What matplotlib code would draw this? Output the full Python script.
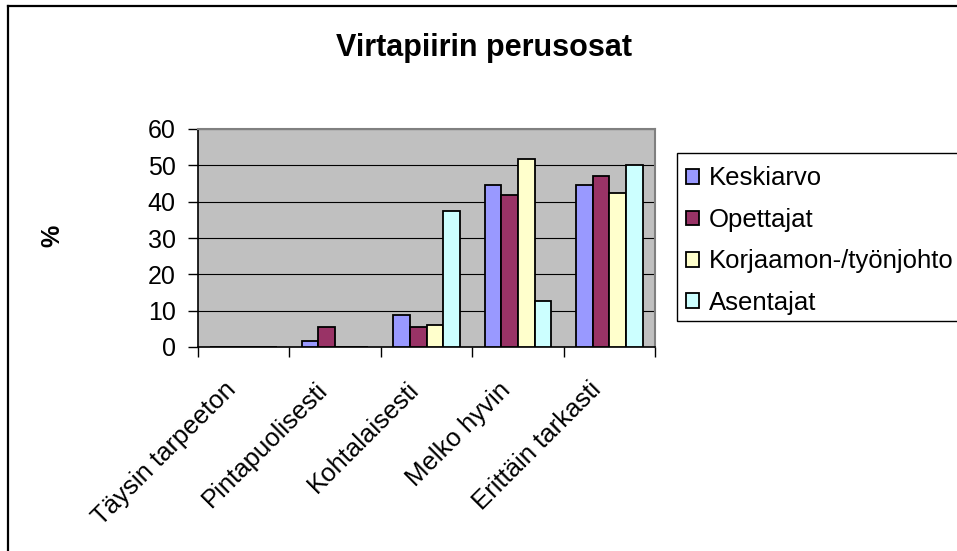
import matplotlib
matplotlib.use("Agg")
import matplotlib.pyplot as plt
import matplotlib.transforms as mtransforms
from matplotlib.lines import Line2D
from matplotlib.patches import Rectangle
import numpy as np

plt.rcParams['font.family'] = ['Liberation Sans', 'DejaVu Sans']

title = "Virtapiirin perusosat"
categories = ["Täysin tarpeeton", "Pintapuolisesti", "Kohtalaisesti", "Melko hyvin", "Erittäin tarkasti"]
series_names = ["Keskiarvo", "Opettajat", "Korjaamon-/työnjohto", "Asentajat"]
keskiarvo = [0, 1.7, 8.8, 44.5, 44.5]
opettajat = [0, 5.4, 5.4, 41.7, 47.2]
korjaamo = [0, 0, 6.0, 51.7, 42.3]
asentajat = [0, 0, 37.4, 12.6, 50.1]
y_ticks = [0, 10, 20, 30, 40, 50, 60]
colors = ["#9999FF", "#993366", "#FFFFCC", "#CCFFFF"]

W, H = 957, 551
fig = plt.figure(figsize=(W / 100, H / 100), dpi=100)
fig.patch.set_facecolor("white")

# outer chart frame (top and left edges)
fig.add_artist(Line2D([8 / W, 1.0], [1 - 6 / H, 1 - 6 / H], transform=fig.transFigure,
                      color="black", lw=1.6))
fig.add_artist(Line2D([8 / W, 8 / W], [0.0, 1 - 6 / H], transform=fig.transFigure,
                      color="black", lw=1.6))

left, right, top, bottom = 198 / W, 655 / W, 1 - 129 / H, 1 - 347 / H
ax = fig.add_axes([left, bottom, right - left, top - bottom])
ax.set_facecolor("#C0C0C0")

series = [keskiarvo, opettajat, korjaamo, asentajat]
n = len(series)
bw = 1.0 / (n + 1.5)
x = np.arange(len(categories))
for i, (vals, c, name) in enumerate(zip(series, colors, series_names)):
    ax.bar(x + (i - (n - 1) / 2) * bw, vals, width=bw, color=c, edgecolor="black",
           linewidth=1.3, label=name, zorder=3)

ax.set_xlim(-0.5, len(categories) - 0.5)
ax.set_ylim(0, 60)
ax.set_yticks(y_ticks)
ax.set_yticklabels([str(v) for v in y_ticks], fontsize=18)
ax.yaxis.grid(True, color="black", lw=0.8, zorder=1)
ax.set_axisbelow(True)

ax.tick_params(axis="y", direction="out", length=7, width=1, color="black", pad=9)
ax.set_xticks(x)
ax.set_xticklabels(categories, fontsize=18.5, rotation=45, ha="right", va="top")
ax.tick_params(axis="x", which="major", length=0, pad=22)
ax.set_xticks(np.arange(len(categories) + 1) - 0.5, minor=True)
ax.tick_params(axis="x", which="minor", direction="out", length=7, width=1, color="black")
offset = mtransforms.ScaledTranslation(-3 / 100, 0, fig.dpi_scale_trans)
for lab in ax.get_xticklabels():
    lab.set_transform(lab.get_transform() + offset)

for s in ["top", "right"]:
    ax.spines[s].set_color("#808080")
    ax.spines[s].set_linewidth(1.5)
for s in ["left", "bottom"]:
    ax.spines[s].set_color("black")
    ax.spines[s].set_linewidth(1.2)

fig.text(484 / W, 1 - 48 / H, title, ha="center", va="center", fontsize=22, fontweight="bold")
fig.text(52 / W, 1 - 236 / H, "%", ha="center", va="center", rotation=90, fontsize=18,
         fontweight="bold")

# legend box, running past the right edge of the figure
fig.add_artist(Rectangle((677 / W, 1 - 321 / H), (290 - 0) / W, (321 - 153) / H,
                         transform=fig.transFigure, facecolor="white", edgecolor="black",
                         lw=1.0, zorder=4))
leg = fig.legend(loc="upper left", bbox_to_anchor=(677 / W, 1 - 157.5 / H),
                 bbox_transform=fig.transFigure, fontsize=18.5, frameon=False,
                 borderpad=0.35, labelspacing=0.68, handlelength=0.5, handleheight=0.5,
                 handletextpad=0.39, borderaxespad=0)
leg.set_zorder(5)

fig.savefig("out.png", dpi=100)
